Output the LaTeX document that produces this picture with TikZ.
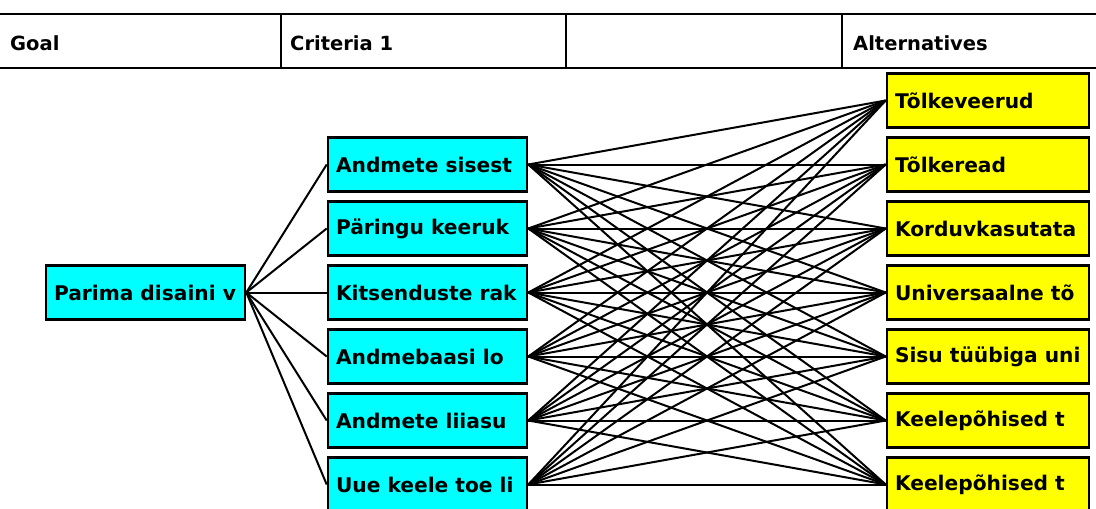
\documentclass[tikz,border=0pt]{standalone}
\usepackage{fontspec}
\setmainfont{DejaVu Sans}
\definecolor{crit}{RGB}{0,255,255}
\definecolor{alt}{RGB}{255,255,0}
\newcommand{\lbox}[2]{\makebox[#1][l]{#2}}
\begin{document}
\begin{tikzpicture}[x=1pt,y=-1pt,
  every node/.style={font=\fontsize{20.2}{23}\selectfont\bfseries},
  hdrline/.style={line width=2.8pt},
  hdrtext/.style={anchor=west,inner sep=0pt,font=\fontsize{19.5}{22}\selectfont\bfseries},
  boxbase/.style={draw=black,line width=2.6pt,minimum height=54pt,inner xsep=8pt,inner ysep=0pt,anchor=center},
  critbox/.style={boxbase,fill=crit},
  altbox/.style={boxbase,fill=alt},
  link/.style={line width=2pt}]
\useasboundingbox (0,0) rectangle (1096,509);
% header
\draw[hdrline] (0,14) -- (1096,14);
\draw[hdrline] (0,68) -- (1096,68);
\draw[hdrline] (281,14) -- (281,68);
\draw[hdrline] (566,14) -- (566,68);
\draw[hdrline] (842,14) -- (842,68);
\node[hdrtext] (hgoal) at (10,43) {Goal};
\node[hdrtext] (hcrit) at (290,43) {Criteria 1};
\node[hdrtext] (halt) at (853,43) {Alternatives};
% goal
\node[critbox] (g) at (145.5,292.5) {\lbox{183pt}{Parima disaini v}};
% criteria
\node[critbox] (c1) at (427.5,164.5) {\lbox{183pt}{Andmete sisest}};
\node[critbox] (c2) at (427.5,228.5) {\lbox{183pt}{Päringu keeruk}};
\node[critbox] (c3) at (427.5,292.5) {\lbox{183pt}{Kitsenduste rak}};
\node[critbox] (c4) at (427.5,356.5) {\lbox{183pt}{Andmebaasi lo}};
\node[critbox] (c5) at (427.5,420.5) {\lbox{183pt}{Andmete liiasu}};
\node[critbox] (c6) at (427.5,484.5) {\lbox{183pt}{Uue keele toe li}};
% alternatives
\node[altbox] (a1) at (988,100.5) {\lbox{186pt}{Tõlkeveerud}};
\node[altbox] (a2) at (988,164.5) {\lbox{186pt}{Tõlkeread}};
\node[altbox] (a3) at (988,228.5) {\lbox{186pt}{Korduvkasutata}};
\node[altbox] (a4) at (988,292.5) {\lbox{186pt}{Universaalne tõ}};
\node[altbox] (a5) at (988,356.5) {\lbox{186pt}{Sisu tüübiga uni}};
\node[altbox] (a6) at (988,420.5) {\lbox{186pt}{Keelepõhised t}};
\node[altbox] (a7) at (988,484.5) {\lbox{186pt}{Keelepõhised t}};
% links
\foreach \c in {c1,c2,c3,c4,c5,c6} {
  \draw[link] (g.east) -- (\c.west);
  \foreach \a in {a1,a2,a3,a4,a5,a6,a7} {
    \draw[link] (\c.east) -- (\a.west);
  }
}
\end{tikzpicture}
\end{document}
